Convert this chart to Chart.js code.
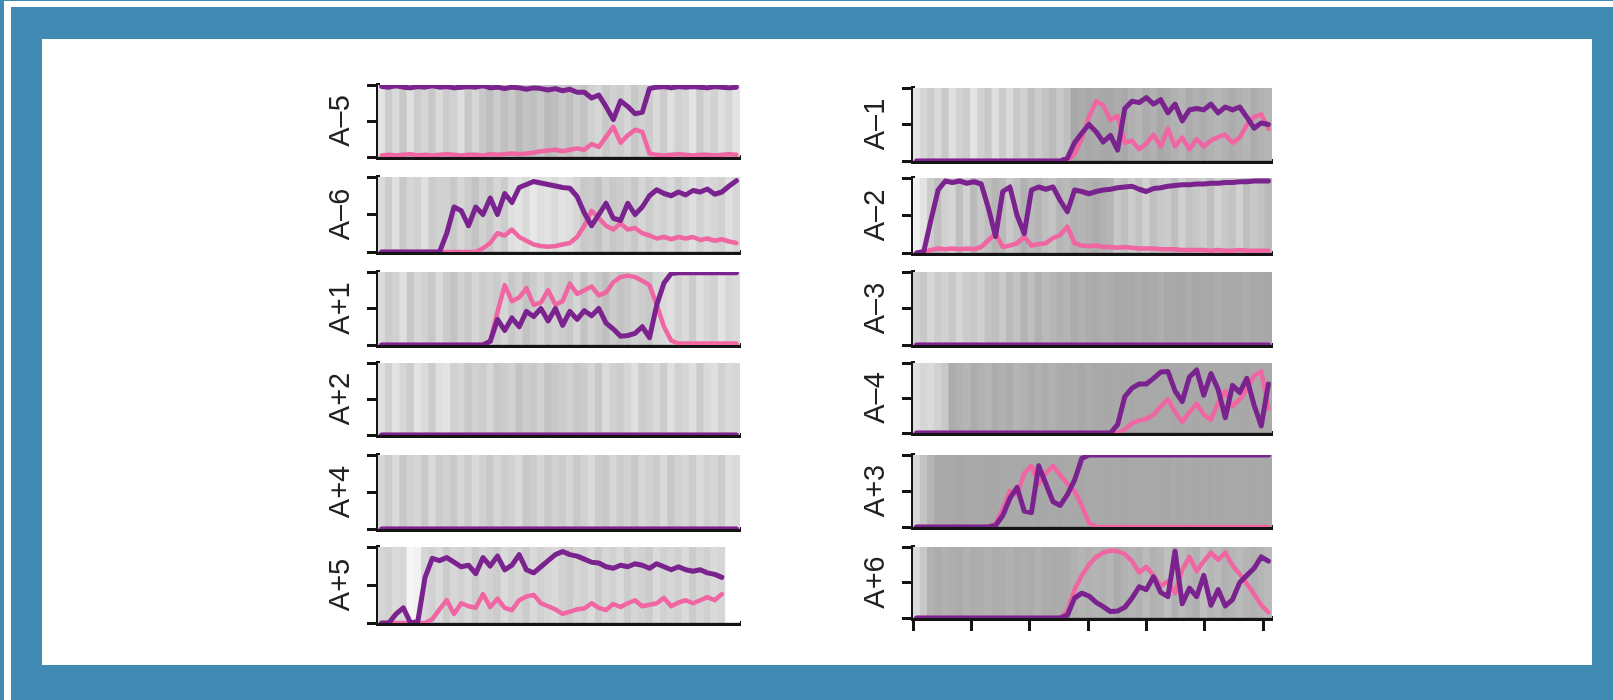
<!DOCTYPE html>
<html>
<head>
<meta charset="utf-8">
<script src="https://cdn.jsdelivr.net/npm/chart.js@4.4.0/dist/chart.umd.min.js"></script>
<style>
  html, body { margin: 0; padding: 0; }
  body { width: 1613px; height: 700px; background: #418ab3; position: relative; overflow: hidden; }
  #frame { position: absolute; left: 4px; top: 1px; right: 0; bottom: 0; border-left: 7px solid #fff; border-top: 6px solid #fff; }
  #sheet { position: absolute; left: 42px; top: 39px; width: 1550px; height: 626px; background: #fff; }
  canvas { position: absolute; }
</style>
</head>
<body>
<div id="frame"></div>
<div id="sheet"></div>
<script>
/* =====================
  Data (0 = lost, 1 = fixed)
===================== */

// time bins along every panel
var GENS = [1,2,3,4,5,6,7,8,9,10,11,12,13,14,15,16,17,18,19,20,21,22,23,24,25,
            26,27,28,29,30,31,32,33,34,35,36,37,38,39,40,41,42,43,44,45,46,47,48,49,50];
// unlabelled tick marks under the last right panel
var XTICKS = [0, 10, 20, 30, 40, 50, 60];

// A-5
var am5Purple = [0.98,0.97,0.99,0.97,0.96,0.98,0.97,0.99,0.97,0.98,0.96,0.97,0.98,0.97,0.99,0.96,0.97,0.95,0.97,0.96,
                 0.94,0.96,0.95,0.93,0.95,0.92,0.94,0.90,0.90,0.82,0.86,0.70,0.52,0.78,0.70,0.60,0.62,0.95,
                 0.97,0.98,0.96,0.98,0.97,0.98,0.97,0.96,0.98,0.97,0.96,0.97];
var am5Pink = [0.02,0.03,0.02,0.03,0.04,0.02,0.03,0.02,0.03,0.04,0.03,0.02,0.03,0.03,0.02,0.04,0.03,0.04,0.05,0.04,0.05,
               0.06,0.08,0.09,0.10,0.08,0.10,0.12,0.10,0.18,0.14,0.28,0.42,0.20,0.30,0.38,0.35,0.05,
               0.03,0.02,0.03,0.04,0.03,0.02,0.03,0.03,0.02,0.03,0.04,0.03];
var am5Grey = [0.30,0.55,0.40,0.60,0.35,0.55,0.45,0.60,0.40,0.55,0.50,0.35,0.60,0.45,
               0.60,0.70,0.55,0.70,0.60,0.75,0.65,0.70,0.60,0.75,0.70,0.60,0.70,
               0.55,0.65,0.50,0.45,0.60,0.50,0.55,0.45,0.60,0.50,0.55,
               0.40,0.55,0.35,0.50,0.45,0.30,0.55,0.40,0.50,0.35,0.45,0.30];

// A-6
var am6Purple = [0,0,0,0,0,0,0,0,0,
                 0.25,0.60,0.55,0.35,0.60,0.50,0.72,0.50,0.78,0.66,0.86,0.90,0.94,0.92,0.90,0.88,0.86,0.85,0.74,0.52,
                 0.35,0.50,0.65,0.45,0.42,0.65,0.50,0.60,0.75,0.83,0.78,0.75,0.80,0.76,0.82,0.80,0.84,0.77,0.80,0.88,0.95];
var am6Pink = [0,0,0,0,0,0,0,0,0,0,0,0,0,0,
               0.05,0.12,0.25,0.22,0.30,0.20,0.15,0.10,0.08,0.07,0.08,0.10,0.12,0.20,0.35,0.55,0.45,0.35,0.30,0.38,
               0.30,0.32,0.25,0.22,0.18,0.20,0.17,0.20,0.18,0.20,0.16,0.18,0.15,0.17,0.14,0.12];
var am6Grey = [0.40,0.55,0.35,0.60,0.45,0.50,0.35,0.55,0.50,
               0.50,0.60,0.45,0.55,0.65,0.50,0.60,0.45,0.55,
               0.35,0.30,0.40,0.25,0.35,0.30,0.40,0.30,0.35,0.45,
               0.60,0.55,0.65,0.50,0.60,0.55,0.50,0.60,0.45,0.55,
               0.45,0.50,0.40,0.55,0.45,0.35,0.50,0.40,0.45,0.50,0.35,0.45];

// A+1
var ap1Purple = [0,0,0,0,0,0,0,0,0,0,0,0,0,0,0,
                 0.05,0.35,0.20,0.37,0.25,0.46,0.39,0.50,0.33,0.50,0.27,0.46,0.35,0.47,0.40,0.50,0.30,0.22,0.12,0.13,
                 0.16,0.25,0.10,0.55,0.85,0.98,0.99,0.99,0.99,0.99,0.99,0.99,0.99,0.99,0.99];
var ap1Pink = [0,0,0,0,0,0,0,0,0,0,0,0,0,0,0,0.05,
               0.45,0.82,0.60,0.65,0.78,0.55,0.58,0.75,0.55,0.60,0.84,0.70,0.75,0.80,0.68,0.72,0.86,0.93,0.95,0.93,
               0.88,0.82,0.55,0.25,0.06,0.02,0.02,0.02,0.02,0.02,0.02,0.02,0.02,0.02];
var ap1Grey = [0.40,0.55,0.50,0.35,0.60,0.45,0.50,0.60,0.40,0.55,0.65,0.50,0.60,0.45,0.55,0.50,
               0.55,0.45,0.60,0.50,0.65,0.55,0.45,0.60,0.50,0.55,0.60,0.45,0.65,0.50,0.60,0.70,0.55,0.65,0.60,0.50,0.55,0.60,0.45,0.40,
               0.35,0.50,0.40,0.55,0.35,0.45,0.50,0.30,0.45,0.40];

// A+2
var ap2Purple = [0,0,0,0,0,0,0,0,0,0,0,0,0,0,0,0,0,0,0,0,0,0,0,0,0,0,0,0,0,0,0,0,0,0,0,0,0,0,0,0,0,0,0,0,0,0,0,0,0,0];
var ap2Pink = [0,0,0,0,0,0,0,0,0,0,0,0,0,0,0,0,0,0,0,0,0,0,0,0,0,0,0,0,0,0,0,0,0,0,0,0,0,0,0,0,0,0,0,0,0,0,0,0,0,0];
var ap2Grey = [0.35,0.50,0.30,0.45,0.55,0.30,0.40,0.55,0.35,0.30,0.50,0.45,0.60,0.50,0.55,0.45,0.60,0.55,0.50,0.65,
               0.55,0.60,0.50,0.65,0.60,0.55,0.50,0.60,0.55,0.45,0.60,0.40,0.50,0.55,0.45,0.35,0.55,0.50,0.40,0.55,
               0.35,0.50,0.45,0.35,0.55,0.40,0.35,0.50,0.40,0.45];

// A+4
var ap4Purple = [0,0,0,0,0,0,0,0,0,0,0,0,0,0,0,0,0,0,0,0,0,0,0,0,0,0,0,0,0,0,0,0,0,0,0,0,0,0,0,0,0,0,0,0,0,0,0,0,0,0];
var ap4Pink = [0,0,0,0,0,0,0,0,0,0,0,0,0,0,0,0,0,0,0,0,0,0,0,0,0,0,0,0,0,0,0,0,0,0,0,0,0,0,0,0,0,0,0,0,0,0,0,0,0,0];
var ap4Grey = [0.45,0.55,0.40,0.60,0.50,0.45,0.60,0.40,0.55,0.50,0.60,0.45,0.55,0.40,0.50,0.60,0.45,0.55,0.50,0.40,
               0.60,0.55,0.45,0.60,0.50,0.55,0.45,0.60,0.50,0.40,0.55,0.60,0.45,0.55,0.50,0.60,0.45,0.50,0.55,0.40,
               0.60,0.50,0.45,0.55,0.40,0.50,0.45,0.55,0.35,0.40];

// A+5
var ap5Purple = [0,0,0.12,0.20,0,0.02,0.60,0.85,0.82,0.86,0.80,0.74,0.76,0.65,0.86,0.75,0.88,0.70,0.76,0.90,
                 0.70,0.66,0.74,0.82,0.90,0.94,0.90,0.88,0.84,0.80,0.79,0.74,0.72,0.76,0.74,0.78,0.76,0.72,0.78,0.74,
                 0.70,0.74,0.70,0.68,0.70,0.66,0.64,0.60,null,null];
var ap5Pink = [0,0,0,0,0,0,0,0.05,0.18,0.30,0.12,0.26,0.22,0.20,0.38,0.21,0.32,0.20,0.17,0.30,
               0.35,0.37,0.26,0.22,0.18,0.12,0.15,0.18,0.19,0.26,0.20,0.17,0.25,0.21,0.26,0.30,0.22,0.24,0.26,0.33,
               0.22,0.27,0.30,0.26,0.30,0.34,0.30,0.38,null,null];
var ap5Grey = [0.45,0.50,0.40,0.45,0.10,0.15,0.45,0.50,0.40,0.55,0.45,0.50,0.40,0.55,0.45,0.50,0.55,0.40,0.50,0.45,
               0.55,0.40,0.50,0.45,0.40,0.50,0.55,0.45,0.50,0.40,0.55,0.45,0.50,0.40,0.55,0.45,0.50,0.55,0.40,0.50,
               0.45,0.50,0.40,0.55,0.45,0.50,0.40,0.45,0,0];

// A-1
var am1Purple = [0,0,0,0,0,0,0,0,0,0,0,0,0,0,0,0,0,0,0,0,0,
                 0.04,0.25,0.38,0.50,0.40,0.26,0.35,0.15,0.72,0.82,0.80,0.87,0.78,0.84,0.66,0.78,0.55,0.70,0.72,0.70,
                 0.78,0.66,0.74,0.70,0.74,0.60,0.45,0.52,0.50];
var am1Pink = [0,0,0,0,0,0,0,0,0,0,0,0,0,0,0,0,0,0,0,0,0,0,
               0.10,0.30,0.60,0.82,0.76,0.56,0.62,0.25,0.28,0.16,0.24,0.36,0.20,0.44,0.20,0.32,0.16,0.30,0.20,0.28,
               0.33,0.36,0.25,0.32,0.50,0.60,0.64,0.44];
var am1Grey = [0.30,0.45,0.55,0.40,0.60,0.35,0.50,0.55,0.30,0.50,0.60,0.35,0.55,0.40,0.60,0.50,0.70,0.55,0.65,0.75,0.60,0.70,
               0.95,0.90,0.95,0.90,0.95,0.95,0.90,0.95,0.85,0.80,0.90,0.85,0.95,0.90,0.85,0.80,0.90,0.85,0.90,0.85,
               0.80,0.85,0.90,0.85,0.80,0.90,0.85,0.80];

// A-2
var am2Purple = [0,0.02,0.44,0.84,0.96,0.94,0.96,0.93,0.95,0.92,0.60,0.22,0.82,0.88,0.50,0.26,0.84,0.88,0.85,0.88,
                 0.70,0.55,0.84,0.82,0.79,0.82,0.84,0.85,0.87,0.88,0.89,0.85,0.82,0.86,0.87,0.89,0.90,0.91,0.91,0.92,
                 0.92,0.93,0.93,0.94,0.94,0.95,0.95,0.96,0.96,0.96];
var am2Pink = [0,0.01,0.04,0.06,0.05,0.06,0.05,0.06,0.05,0.08,0.17,0.26,0.08,0.10,0.13,0.22,0.10,0.12,0.13,0.20,
               0.24,0.35,0.13,0.10,0.09,0.10,0.08,0.08,0.07,0.08,0.07,0.06,0.06,0.06,0.05,0.05,0.05,0.04,0.04,0.04,
               0.04,0.03,0.04,0.03,0.03,0.04,0.03,0.03,0.03,0.03];
var am2Grey = [0.15,0.30,
               0.55,0.70,0.50,0.45,0.70,0.50,0.75,0.60,
               0.70,0.80,0.75,0.60,0.70,0.85,0.75,0.80,0.70,0.65,0.80,0.75,0.85,0.80,0.85,0.90,0.85,0.80,
               0.60,0.70,0.55,0.65,0.50,0.70,0.60,0.55,0.70,0.50,0.65,0.60,0.55,0.70,0.50,0.60,0.65,0.50,0.70,0.60,0.65,0.75];

// A-3
var am3Purple = [0,0,0,0,0,0,0,0,0,0,0,0,0,0,0,0,0,0,0,0,0,0,0,0,0,0,0,0,0,0,0,0,0,0,0,0,0,0,0,0,0,0,0,0,0,0,0,0,0,0];
var am3Pink = [0,0,0,0,0,0,0,0,0,0,0,0,0,0,0,0,0,0,0,0,0,0,0,0,0,0,0,0,0,0,0,0,0,0,0,0,0,0,0,0,0,0,0,0,0,0,0,0,0,0];
var am3Grey = [0.50,0.60,0.45,0.55,0.50,0.60,0.45,0.55,0.60,0.50,0.65,
               0.70,0.60,0.75,0.65,0.80,0.70,0.85,0.75,0.80,0.85,0.80,0.90,0.85,0.90,0.92,0.88,0.90,
               0.95,0.93,0.95,0.90,0.95,0.92,0.88,0.95,0.93,0.95,0.90,0.95,0.93,0.95,0.90,0.95,0.93,0.95,0.90,0.95,0.94,0.95];

// A-4
var am4Purple = [0,0,0,0,0,0,0,0,0,0,0,0,0,0,0,0,0,0,0,0,0,0,0,0,0,0,0,0,
                 0.12,0.52,0.64,0.70,0.70,0.78,0.87,0.88,0.60,0.45,0.80,0.90,0.54,0.85,0.62,0.22,0.68,0.58,0.78,0.40,
                 0.10,0.70];
var am4Pink = [0,0,0,0,0,0,0,0,0,0,0,0,0,0,0,0,0,0,0,0,0,0,0,0,0,0,0,0,0,
               0.05,0.14,0.18,0.20,0.26,0.38,0.48,0.30,0.16,0.30,0.42,0.26,0.19,0.43,0.60,0.38,0.48,0.62,0.82,0.88,
               0.35];
var am4Grey = [0.35,0.45,0.40,0.50,0.60,
               0.90,0.85,0.80,0.90,0.85,0.80,0.90,0.85,0.90,0.80,0.85,0.90,0.85,0.90,0.85,0.90,0.92,0.90,0.95,0.90,
               0.95,0.94,0.95,0.93,0.95,0.96,0.94,0.95,0.93,0.95,0.94,0.96,0.95,0.93,0.95,0.94,0.95,0.93,0.95,0.94,
               0.95,0.96,0.94,0.95,0.93];

// A+3
var ap3Purple = [0,0,0,0,0,0,0,0,0,0,0,
                 0.02,0.16,0.40,0.55,0.22,0.20,0.85,0.60,0.35,0.30,0.45,0.65,0.95,
                 1,1,1,1,1,1,1,1,1,1,1,1,1,1,1,1,1,1,1,1,1,1,1,1,1,1];
var ap3Pink = [0,0,0,0,0,0,0,0,0,0,0,
               0.05,0.25,0.50,0.45,0.75,0.85,0.60,0.75,0.85,0.72,0.60,0.50,0.30,0.06,
               0,0,0,0,0,0,0,0,0,0,0,0,0,0,0,0,0,0,0,0,0,0,0,0,0];
var ap3Grey = [0.45,0.65,0.80,
               0.94,0.95,0.93,0.96,0.94,0.95,0.93,0.95,0.96,0.94,0.95,0.93,0.95,0.94,0.96,0.95,0.93,0.95,0.94,
               0.95,0.96,0.94,0.95,0.93,0.95,0.94,0.96,0.95,0.93,0.95,0.94,0.95,0.96,0.94,0.95,0.92,0.95,0.94,
               0.96,0.95,0.93,0.95,0.94,0.95,0.96,0.94,0.95];

// A+6
var ap6Purple = [0,0,0,0,0,0,0,0,0,0,0,0,0,0,0,0,0,0,0,0,0,
                 0.04,0.28,0.35,0.31,0.22,0.16,0.09,0.10,0.15,0.28,0.44,0.40,0.58,0.36,0.30,0.94,0.20,0.42,0.30,0.60,
                 0.18,0.40,0.17,0.26,0.50,0.60,0.70,0.86,0.80];
var ap6Pink = [0,0,0,0,0,0,0,0,0,0,0,0,0,0,0,0,0,0,0,0,0,
               0.10,0.40,0.60,0.75,0.86,0.92,0.95,0.94,0.90,0.80,0.64,0.72,0.60,0.45,0.52,0.35,0.68,0.86,0.66,0.80,
               0.92,0.82,0.92,0.74,0.62,0.48,0.34,0.18,0.08];
var ap6Grey = [0.40,0.60,
               0.85,0.90,0.85,0.88,0.90,0.85,0.90,0.88,0.85,0.90,0.88,0.85,0.90,0.88,0.90,0.85,0.90,0.92,0.90,
               0.90,0.85,0.80,0.85,0.80,0.85,0.80,0.90,0.85,0.80,0.85,0.75,0.85,0.80,0.70,0.85,0.75,0.80,0.85,0.70,
               0.80,0.75,0.85,0.80,0.75,0.80,0.85,0.80,0.75];

/* =====================
  Layout
===================== */

var PURPLE = '#7a238e';
var PINK = '#f066a3';
var AXIS = '#141414';
var GREY_DARK = 163;   // shade of a fully grey bin
var FULL = 1;

var YW = 60, PADT = 4, PADR = 4, XH = 16;

// label, data, axis x, right end, top of plot, plot height, ticks under
var panels = [
  { label: 'A–5', purple: am5Purple, pink: am5Pink, grey: am5Grey, ax: 378, rx: 740, top: 85,  h: 72 },
  { label: 'A–6', purple: am6Purple, pink: am6Pink, grey: am6Grey, ax: 378, rx: 740, top: 177, h: 75 },
  { label: 'A+1', purple: ap1Purple, pink: ap1Pink, grey: ap1Grey, ax: 378, rx: 740, top: 272, h: 73 },
  { label: 'A+2', purple: ap2Purple, pink: ap2Pink, grey: ap2Grey, ax: 378, rx: 740, top: 363, h: 72 },
  { label: 'A+4', purple: ap4Purple, pink: ap4Pink, grey: ap4Grey, ax: 378, rx: 740, top: 455, h: 74 },
  { label: 'A+5', purple: ap5Purple, pink: ap5Pink, grey: ap5Grey, ax: 378, rx: 740, top: 547, h: 76 },
  { label: 'A–1', purple: am1Purple, pink: am1Pink, grey: am1Grey, ax: 913, rx: 1272, top: 88,  h: 73 },
  { label: 'A–2', purple: am2Purple, pink: am2Pink, grey: am2Grey, ax: 913, rx: 1272, top: 178, h: 75 },
  { label: 'A–3', purple: am3Purple, pink: am3Pink, grey: am3Grey, ax: 913, rx: 1272, top: 272, h: 73 },
  { label: 'A–4', purple: am4Purple, pink: am4Pink, grey: am4Grey, ax: 913, rx: 1272, top: 363, h: 70 },
  { label: 'A+3', purple: ap3Purple, pink: ap3Pink, grey: ap3Grey, ax: 913, rx: 1272, top: 455, h: 72 },
  { label: 'A+6', purple: ap6Purple, pink: ap6Pink, grey: ap6Grey, ax: 913, rx: 1272, top: 547, h: 71, ticks: true }
];

Chart.defaults.font.family = "'Liberation Sans', Arial, sans-serif";

var greyShade = function(c) {
  var v = Math.round(255 - c * (255 - GREY_DARK));
  return 'rgb(' + v + ',' + v + ',' + v + ')';
};

var makePanel = function(p) {
  var canvas = document.createElement('canvas');
  var w = YW + (p.rx - p.ax) + PADR;
  var h = PADT + p.h + XH;
  canvas.width = w;
  canvas.height = h;
  canvas.style.left = (p.ax - YW) + 'px';
  canvas.style.top = (p.top - PADT) + 'px';
  canvas.style.width = w + 'px';
  canvas.style.height = h + 'px';
  document.body.appendChild(canvas);

  // last tick sits 9px short of the end of the axis
  var lastTick = XTICKS[XTICKS.length - 1];
  var xMax = lastTick * (p.rx - p.ax) / (p.rx - p.ax - 9);

  new Chart(canvas, {
    type: 'bar',
    data: {
      labels: GENS,
      datasets: [
        { type: 'line', data: p.purple, borderColor: PURPLE, borderWidth: 5, pointRadius: 0,
          borderJoinStyle: 'round', borderCapStyle: 'round', order: 0, xAxisID: 'x', yAxisID: 'y' },
        { type: 'line', data: p.pink, borderColor: PINK, borderWidth: 4.5, pointRadius: 0,
          borderJoinStyle: 'round', borderCapStyle: 'round', order: 1, xAxisID: 'x', yAxisID: 'y' },
        { type: 'bar', data: p.grey.map(function() { return FULL; }), backgroundColor: p.grey.map(greyShade),
          barPercentage: 1, categoryPercentage: 1, borderWidth: 0, order: 2, xAxisID: 'x', yAxisID: 'y' }
      ]
    },
    options: {
      responsive: false,
      animation: false,
      layout: { padding: { top: PADT, right: PADR, left: 0, bottom: 0 } },
      plugins: { legend: { display: false }, tooltip: { enabled: false } },
      scales: {
        x: { display: false },
        xt: {
          type: 'linear', position: 'bottom', min: 0, max: xMax, bounds: 'data', offset: false,
          afterFit: function(s) { s.height = XH; },
          afterBuildTicks: function(s) {
            s.ticks = XTICKS.map(function(v) { return { value: v }; });
          },
          ticks: { display: false },
          grid: { display: !!p.ticks, offset: false, drawOnChartArea: false, drawTicks: true, tickLength: 13,
                  tickWidth: 3, tickColor: AXIS, color: AXIS },
          border: { display: true, color: AXIS, width: 5 }
        },
        y: {
          min: 0, max: 1,
          afterFit: function(s) { s.width = YW; },
          ticks: { display: false, stepSize: 0.5 },
          grid: { display: true, drawOnChartArea: false, drawTicks: true, tickLength: 11,
                  tickWidth: 3, tickColor: AXIS, color: AXIS },
          border: { display: true, color: AXIS, width: 4 },
          title: { display: true, text: p.label, color: '#222', font: { size: 29 },
                   padding: { top: 6, bottom: 0 } }
        }
      }
    }
  });
};

panels.forEach(makePanel);
</script>
</body>
</html>
